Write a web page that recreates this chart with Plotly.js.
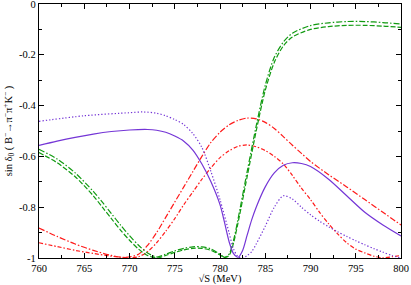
<!DOCTYPE html>
<html><head><meta charset="utf-8">
<script src="https://cdn.plot.ly/plotly-3.0.1.min.js"></script>
<style>html,body{margin:0;padding:0;background:#fff}#c{width:411px;height:285px}</style>
</head><body><div id="c"></div>
<script>
// sqrt(S) in MeV
const xPurpleSolid = [760,762,764,766,768,770,772,773,774,775,776,777,778,779,780,780.5,781,781.5,782,782.5,783,783.5,784,785,786,787,788,789,790,792,794,796,798,800];
const yPurpleSolid = [-0.557,-0.54,-0.525,-0.512,-0.502,-0.496,-0.494,-0.497,-0.505,-0.52,-0.54,-0.575,-0.63,-0.70,-0.79,-0.86,-0.935,-0.983,-0.997,-0.97,-0.91,-0.85,-0.80,-0.72,-0.665,-0.635,-0.625,-0.628,-0.64,-0.69,-0.755,-0.82,-0.87,-0.913];

const xPurpleDot = [760,765,770,771.5,773,774,775,776,777,778,779,780,781,781.5,782,782.5,783,783.5,784,785,786,787,788,789,790,791,792,793,794,795,796,797,798,799,800];
const yPurpleDot = [-0.462,-0.44,-0.428,-0.425,-0.43,-0.44,-0.455,-0.475,-0.51,-0.565,-0.66,-0.77,-0.90,-0.965,-0.995,-1.0,-0.99,-0.975,-0.945,-0.875,-0.80,-0.755,-0.768,-0.80,-0.83,-0.855,-0.877,-0.897,-0.915,-0.932,-0.948,-0.963,-0.977,-0.99,-1.0];

const xRedUpper = [760,762,764,766,768,769.5,771,772,773,774,775,776,777,778,779,780,781,782,783,784,785,786,787,788,789,790,792,794,796,798,800];
const yRedUpper = [-0.882,-0.915,-0.945,-0.97,-0.99,-0.998,-0.985,-0.95,-0.90,-0.84,-0.78,-0.72,-0.66,-0.60,-0.545,-0.505,-0.476,-0.458,-0.449,-0.452,-0.466,-0.49,-0.522,-0.556,-0.588,-0.62,-0.672,-0.72,-0.77,-0.82,-0.87];

const xRedLower = [760,762,764,766,768,770,771,772,773,774,775,776,777,778,779,780,781,782,783,784,785,786,787,788,789,790,791,792,793,794,795,796,797,798,799,800];
const yRedLower = [-0.94,-0.955,-0.97,-0.982,-0.993,-0.999,-0.995,-0.975,-0.94,-0.895,-0.845,-0.79,-0.74,-0.69,-0.645,-0.605,-0.578,-0.56,-0.555,-0.562,-0.577,-0.60,-0.63,-0.675,-0.725,-0.77,-0.82,-0.865,-0.905,-0.94,-0.965,-0.98,-0.993,-0.999,-0.995,-0.99];

const xGreenDash = [760,762,764,766,767,768,769,770,771,772,773,774,775,776,777,778,779,780,780.5,781,781.5,782,783,784,785,786,787,788,790,792,794,796,798,800];
const yGreenDash = [-0.585,-0.625,-0.68,-0.755,-0.80,-0.845,-0.89,-0.93,-0.965,-0.99,-1.0,-0.99,-0.978,-0.968,-0.962,-0.962,-0.97,-0.988,-0.998,-0.99,-0.94,-0.86,-0.68,-0.50,-0.34,-0.23,-0.165,-0.13,-0.10,-0.089,-0.084,-0.084,-0.087,-0.092];

const xGreenDashDot = [760,762,764,766,767,768,769,770,771,772,773,774,775,776,777,778,779,780,780.5,781,781.5,782,783,784,785,786,787,788,790,792,794,796,798,800];
const yGreenDashDot = [-0.572,-0.61,-0.665,-0.738,-0.78,-0.825,-0.87,-0.912,-0.95,-0.98,-0.996,-0.985,-0.972,-0.962,-0.956,-0.956,-0.964,-0.985,-0.997,-0.985,-0.93,-0.845,-0.66,-0.48,-0.32,-0.21,-0.15,-0.115,-0.085,-0.074,-0.069,-0.069,-0.073,-0.079];

const yTickVals = [0,-0.2,-0.4,-0.6,-0.8,-1];
const yTickText = ["0","-0.2","-0.4","-0.6","-0.8","-1"];
const xTickVals = [760,765,770,775,780,785,790,795,800];
const xTickText = ["760","765","770","775","780","785","790","795","800"];

const purple = '#7435d6', red = '#ff1a1a', green = '#119a11';
function tr(x,y,color,dash,w){return {x:x,y:y,mode:'lines',type:'scatter',line:{color:color,dash:dash,width:w||1.2,shape:'spline',smoothing:0.8},hoverinfo:'skip'};}
const data = [
  tr(xRedUpper,yRedUpper,red,'6px,2px,1.5px,2px'),
  tr(xRedLower,yRedLower,red,'4px,2px,1.5px,2px'),
  tr(xGreenDash,yGreenDash,green,'5px,2px'),
  tr(xGreenDashDot,yGreenDashDot,green,'6px,2px,1.5px,2px'),
  tr(xPurpleDot,yPurpleDot,purple,'1.3px,2px'),
  tr(xPurpleSolid,yPurpleSolid,purple,'solid')
];
const font = {family:'"Liberation Serif", "DejaVu Serif", serif', size:10.5, color:'#000'};
const layout = {
  width:411, height:285,
  margin:{l:39,r:10,t:4,b:27},
  paper_bgcolor:'#fff', plot_bgcolor:'#fff',
  showlegend:false,
  font:font,
  xaxis:{range:[760,800], tickmode:'array', tickvals:xTickVals, ticktext:xTickText,
    ticks:'inside', ticklen:5, tickcolor:'#000', tickwidth:1, ticklabeloverflow:'allow',
    minor:{dtick:2.5, tick0:760, ticks:'inside', ticklen:3, tickcolor:'#000', tickwidth:1, showgrid:false},
    showline:true, linecolor:'#000', linewidth:1.2, mirror:'allticks', showgrid:false, zeroline:false,
    tickfont:font, title:{text:'√S (MeV)', font:font, standoff:2}},
  yaxis:{range:[-1,0], tickmode:'array', tickvals:yTickVals, ticktext:yTickText,
    ticks:'inside', ticklen:5, tickcolor:'#000', tickwidth:1, ticklabeloverflow:'allow',
    minor:{dtick:0.1, tick0:0, ticks:'inside', ticklen:3, tickcolor:'#000', tickwidth:1, showgrid:false},
    showline:true, linecolor:'#000', linewidth:1.2, mirror:'allticks', showgrid:false, zeroline:false,
    tickfont:font, title:{text:'sin δ<sub>0</sub> ( B<sup>−</sup>→π<sup>−</sup>π<sup>+</sup>K<sup>−</sup> )', font:font, standoff:4}}
};
Plotly.newPlot('c', data, layout, {staticPlot:true, displayModeBar:false});
</script></body></html>
